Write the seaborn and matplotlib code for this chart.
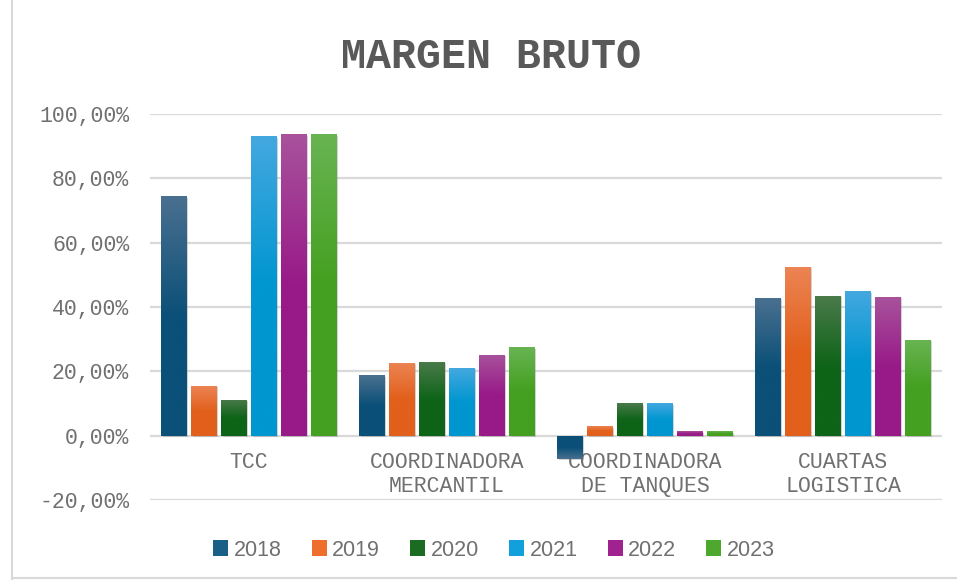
import numpy as np
import pandas as pd
import matplotlib
matplotlib.use("Agg")
import matplotlib.pyplot as plt
import seaborn as sns
from matplotlib.colors import LinearSegmentedColormap
from matplotlib.patches import Patch
import matplotlib.patheffects as pe
from matplotlib.lines import Line2D

categories = ["TCC", "COORDINADORA\nMERCANTIL", "COORDINADORA\nDE TANQUES", "CUARTAS\nLOGISTICA"]
years = ["2018", "2019", "2020", "2021", "2022", "2023"]
v2018 = [74.5, 18.9, -7.1, 42.9]
v2019 = [15.5, 22.7, 3.0, 52.5]
v2020 = [11.2, 23.0, 10.2, 43.5]
v2021 = [93.2, 21.1, 10.2, 45.0]
v2022 = [93.8, 25.2, 1.5, 43.2]
v2023 = [93.8, 27.6, 1.5, 29.8]
yticks = [-20, 0, 20, 40, 60, 80, 100]

colors_mid = ["#1a5f85", "#ee6e2c", "#1b6b22", "#12a0dc", "#a02190", "#4ea82e"]
colors_top = ["#4a7090", "#ec8454", "#4a7a4a", "#44a8e0", "#a8529c", "#68b452"]
colors_bot = ["#0b5078", "#e2601c", "#0e6418", "#0096d0", "#981a88", "#44a020"]

series = [v2018, v2019, v2020, v2021, v2022, v2023]
rows = []
for yr, vals in zip(years, series):
    for c, v in zip(categories, vals):
        rows.append({"cat": c, "year": yr, "val": v})
df = pd.DataFrame(rows)

sns.set_theme(style="white")
plt.rcParams['font.family'] = ['Liberation Mono', 'DejaVu Sans']

fig = plt.figure(figsize=(9.57, 5.80), dpi=100)
ax = fig.add_axes([150/957, 1-500/580, (942-150)/957, (500-114)/580])

sns.barplot(data=df, x="cat", y="val", hue="year", palette=colors_mid,
            width=0.91, ax=ax, legend=False, saturation=1, errorbar=None)

# gradients & shadows
grad = np.linspace(0, 1, 256).reshape(-1, 1)
for i, cont in enumerate(ax.containers):
    cmap = LinearSegmentedColormap.from_list("g%d" % i, [colors_bot[i], colors_bot[i], colors_top[i]])
    for bar in cont:
        w = bar.get_width()
        x0 = bar.get_x()
        neww = w * 0.84
        bar.set_x(x0 + (w - neww) / 2)
        bar.set_width(neww)
        bar.set_edgecolor("none")
        bar.set_linewidth(0)
        bar.set_path_effects([pe.SimplePatchShadow(offset=(1.2, -1.2), shadow_rgbFace="#707070", alpha=0.3), pe.Normal()])
        bx, by, bw, bh = bar.get_x(), bar.get_y(), bar.get_width(), bar.get_height()
        y0, y1 = min(by, by + bh), max(by, by + bh)
        img = grad if bh >= 0 else grad[::-1]
        im = ax.imshow(img, extent=[bx, bx + bw, y0, y1], origin="lower", cmap=cmap,
                       aspect="auto", zorder=bar.get_zorder() + 0.1, interpolation="bicubic")
        im.set_clip_path(bar)

ax.set_xlim(-0.5, 3.5)
ax.set_ylim(-20, 100)
ax.set_yticks(yticks)
ax.set_yticklabels([f"{t},00%" for t in yticks])
ax.yaxis.grid(True, color="#d9d9d9", linewidth=1.6)
ax.set_axisbelow(True)
ax.spines['bottom'].set_position(('data', 0))
for s in ax.spines.values():
    s.set_visible(False)
ax.set_xlabel("")
ax.set_ylabel("")
ax.tick_params(axis="y", length=0, pad=15, labelsize=15.5, labelcolor="#707070")
ax.tick_params(axis="x", length=0, pad=12, labelsize=15.5, labelcolor="#707070")
for lbl in ax.get_xticklabels():
    lbl.set_linespacing(1.15)

fig.text(491/957, 1-57/580, "MARGEN BRUTO", ha="center", va="center",
         fontsize=30, fontweight="bold", color="#595959", family="Liberation Mono")

handles = [Patch(facecolor=c, edgecolor="none") for c in colors_mid]
leg = fig.legend(handles, years, loc="center", bbox_to_anchor=(494/957, 1-550/580), ncol=6,
                 frameon=False, handlelength=0.7, handleheight=0.7, handletextpad=0.25,
                 columnspacing=1.4, prop={"family": "Liberation Sans", "size": 15.5})
for t in leg.get_texts():
    t.set_color("#707070")

# chart border (left & bottom)
fig.add_artist(Line2D([12/957, 12/957], [0, 1], transform=fig.transFigure, color="#d9d9d9", lw=1.5))
fig.add_artist(Line2D([12/957, 1], [2/580, 2/580], transform=fig.transFigure, color="#d9d9d9", lw=1.5))

fig.savefig("out.png", dpi=100)
